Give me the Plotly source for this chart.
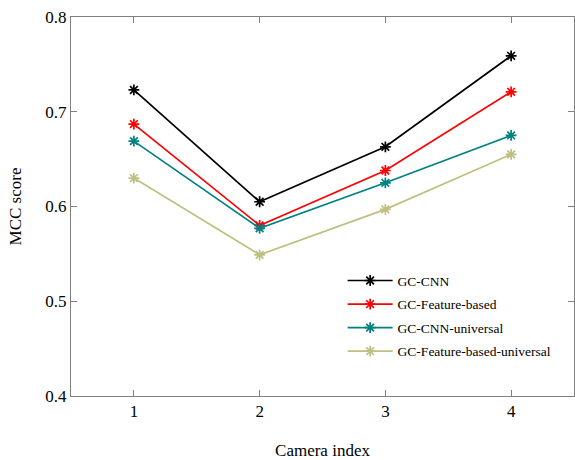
import plotly.graph_objects as go

cameras = [1, 2, 3, 4]
gc_cnn = [0.723, 0.605, 0.663, 0.759]
gc_feat = [0.687, 0.580, 0.638, 0.721]
gc_cnn_uni = [0.669, 0.577, 0.625, 0.675]
gc_feat_uni = [0.630, 0.549, 0.597, 0.655]

series = [
    ("GC-CNN", gc_cnn, "#000000"),
    ("GC-Feature-based", gc_feat, "#ff0000"),
    ("GC-CNN-universal", gc_cnn_uni, "#008080"),
    ("GC-Feature-based-universal", gc_feat_uni, "#bfbf80"),
]

fig = go.Figure()
for i, (name, vals, col) in enumerate(series):
    fig.add_trace(go.Scatter(
        x=cameras, y=vals, name=name, mode="lines+markers",
        legendgroup=f"g{i}",
        line=dict(color=col, width=1.7),
        marker=dict(symbol="asterisk-open", size=9, color=col,
                    line=dict(color=col, width=1.7)),
    ))

axis_common = dict(
    showline=True, linecolor="#808080", linewidth=1, mirror="ticks",
    ticks="inside", ticklen=6, tickcolor="#808080", showgrid=False,
    zeroline=False, tickfont=dict(family="Liberation Serif", size=17, color="black"),
)

fig.update_layout(
    width=575, height=460,
    margin=dict(l=71, r=1, t=17, b=64),
    paper_bgcolor="white", plot_bgcolor="white",
    font=dict(family="Liberation Serif", color="black"),
    xaxis=dict(range=[0.5, 4.5], tickvals=cameras, ticktext=["1", "2", "3", "4"],
               title=dict(text="Camera index", font=dict(size=17), standoff=26),
               **axis_common),
    yaxis=dict(range=[0.4, 0.8], tickvals=[0.4, 0.5, 0.6, 0.7, 0.8],
               ticktext=["0.4", "0.5", "0.6", "0.7", "0.8"],
               title=dict(text="MCC score", font=dict(size=17), standoff=19),
               **axis_common),
    legend=dict(x=0.54, y=0.345, xanchor="left", yanchor="top",
                bgcolor="rgba(255,255,255,0)", borderwidth=0,
                font=dict(family="Liberation Serif", size=13.5),
                traceorder="grouped", tracegroupgap=3, itemwidth=45),
)

fig.write_html("out.html")
